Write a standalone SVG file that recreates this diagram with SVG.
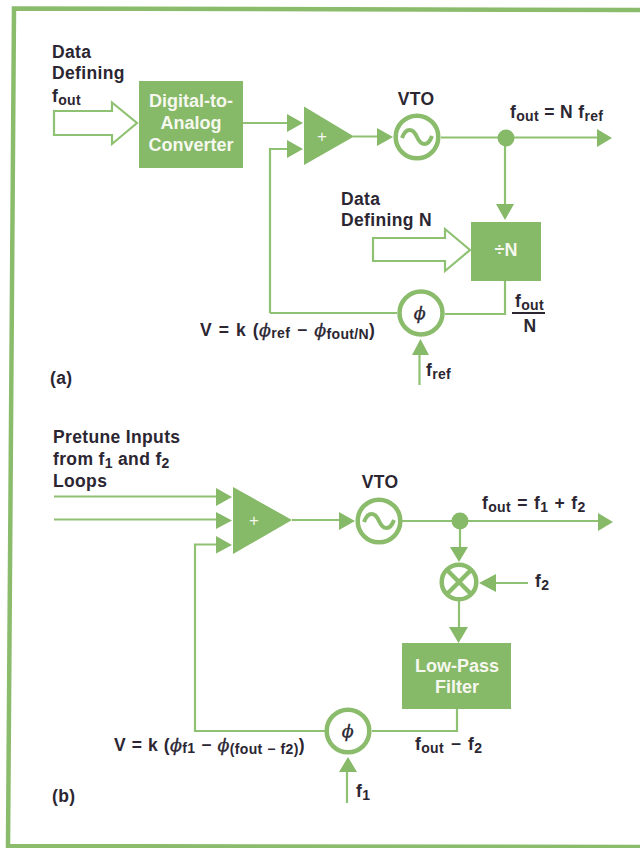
<svg xmlns="http://www.w3.org/2000/svg" width="640" height="848" viewBox="0 0 640 848">
<style>
.t{font-family:"Liberation Sans",Arial,sans-serif;font-weight:700;font-size:17.5px;letter-spacing:.35px;fill:#2b2632}
.w{font-family:"Liberation Sans",Arial,sans-serif;font-weight:700;font-size:18px;fill:#f6f8ef;text-anchor:middle}
.p{font-family:"Liberation Sans",Arial,sans-serif;font-size:17px;fill:#f6f8ef;text-anchor:middle}
.g{font-family:"DejaVu Serif","Liberation Serif",serif;font-weight:400;font-style:italic;stroke:#2b2632;stroke-width:.3}
.s{font-size:14px}
.sp{word-spacing:1.5px}
.sq{word-spacing:1px}
.sr{word-spacing:.5px}
.box{fill:#86b968}
.l{fill:none;stroke:#8fc173;stroke-width:2.2}
.h{fill:none;stroke:#8fc173;stroke-width:2.2}
.c{fill:#fff;stroke:#8abc6c;stroke-width:4.5}
.a{fill:#86b968}
</style>
<rect width="640" height="848" fill="#fff"/>
<path id="frame" d="M640 10L14 8.500L8 846L640 847" fill="none" stroke="#8abc6c" stroke-width="4.500"/>
<g id="connectors">
<path class="l" d="M243 123H288M270 313V149H288M353 136.500H378M441 137.500H597M505 146V205M505 281V314H445M397 313H270M419.500 385V355"/>
<path class="a" d="M287 114L303 123L287 132ZM287 140L303 149L287 158ZM377 128L393 137L377 146ZM597 129L612 138L597 147ZM496 204H514L505 220ZM412 355L420.500 339L429 355Z"/>
<path class="h" d="M54 111H112V102.500L137 123L112 144V135H54ZM373 238H445V229L470 250L445 271V261H373Z"/>
<path class="l" d="M54 496.500H217M54 519.500H217M217 544.500H195V731H325M372 731H457V708M292 520H340M402 521H598M460 528V548M528 583H496M459 600V628M347 803V771"/>
<path class="a" d="M216 488L232 497L216 506ZM216 512L232 520.500L216 529ZM216 536L232 545L216 553.500ZM339 512L355 521L339 530ZM598 513L613 522L598 531ZM450 547H468L459 562ZM496 574V592L479 583ZM449 627H468L458.500 643ZM339 772L348 757L357 772Z"/>
</g>
<g id="input-a">
<text class="t" x="52" y="58">Data</text>
<text class="t" x="52" y="79">Defining</text>
<text class="t" x="52" y="102">f<tspan class="s" dy="3">out</tspan></text>
</g>
<g id="dac">
<rect class="box" x="139" y="81" width="104" height="87"/>
<text class="w" x="191" y="107">Digital-to-</text>
<text class="w" x="191" y="129">Analog</text>
<text class="w" x="191" y="151">Converter</text>
</g>
<g id="sum-a">
<path class="a" d="M304 106.500L354 136.500L304 165Z"/>
<text class="p" x="322" y="142">+</text>
</g>
<g id="vto-a">
<circle class="c" cx="417" cy="137" r="21.300"/>
<path d="M402 138C406 127 413 128 417 137C421 146 428 147 432 136" fill="none" stroke="#8abc6c" stroke-width="4"/>
<text class="t" x="416" y="105" text-anchor="middle">VTO</text>
</g>
<g id="node-a">
<circle class="a" cx="506" cy="138" r="8.500"/>
<text class="t" x="510" y="118">f<tspan class="s" dy="3">out</tspan><tspan dy="-3"> = N f</tspan><tspan class="s" dy="3">ref</tspan></text>
</g>
<g id="input-n">
<text class="t" x="341" y="205">Data</text>
<text class="t" x="341" y="226">Defining N</text>
</g>
<g id="divider">
<rect class="box" x="471" y="222" width="70" height="59"/>
<text class="w" x="506" y="256">÷N</text>
</g>
<g id="fraction">
<text class="t" x="515" y="307">f<tspan class="s" dy="3">out</tspan></text>
<rect x="512" y="312" width="33" height="2" fill="#2b2632"/>
<text class="t" x="530" y="332" text-anchor="middle">N</text>
</g>
<g id="phase-a">
<circle class="c" cx="421" cy="313" r="21.500"/>
<text class="t g" x="420" y="319" text-anchor="middle">ϕ</text>
<text class="t" x="426" y="376">f<tspan class="s" dy="3">ref</tspan></text>
</g>
<text id="eq-a" class="t sp" x="200" y="336">V = k (<tspan class="g">ϕ</tspan><tspan class="s" dy="2">ref</tspan><tspan dy="-2"> − </tspan><tspan class="g">ϕ</tspan><tspan class="s" dy="3">fout/N</tspan><tspan dy="-3">)</tspan></text>
<text id="label-a" class="t" x="50" y="384">(a)</text>
<g id="input-b">
<text class="t" x="53" y="443">Pretune Inputs</text>
<text class="t" x="53" y="465">from f<tspan class="s" dy="3">1</tspan><tspan dy="-3"> and f</tspan><tspan class="s" dy="3">2</tspan></text>
<text class="t" x="53" y="487">Loops</text>
</g>
<g id="sum-b">
<path class="a" d="M233 487L292 520L233 554Z"/>
<text class="p" x="254" y="526">+</text>
</g>
<g id="vto-b">
<circle class="c" cx="379" cy="521" r="21.300"/>
<path d="M364 522C368 511 375 512 379 521C383 530 390 531 394 520" fill="none" stroke="#8abc6c" stroke-width="4"/>
<text class="t" x="380" y="488" text-anchor="middle">VTO</text>
</g>
<g id="node-b">
<circle class="a" cx="460" cy="521" r="8.500"/>
<text class="t sq" x="482" y="509">f<tspan class="s" dy="3">out</tspan><tspan dy="-3"> = f</tspan><tspan class="s" dy="3">1</tspan><tspan dy="-3"> + f</tspan><tspan class="s" dy="3">2</tspan></text>
</g>
<g id="mixer">
<circle class="c" cx="459" cy="582" r="17.300"/>
<path d="M447 570L471 594M471 570L447 594" stroke="#8abc6c" stroke-width="4.500"/>
<text class="t" x="535" y="587">f<tspan class="s" dy="3">2</tspan></text>
</g>
<g id="filter">
<rect class="box" x="402" y="643" width="109" height="66"/>
<text class="w" x="457" y="672">Low-Pass</text>
<text class="w" x="457" y="693">Filter</text>
</g>
<g id="phase-b">
<circle class="c" cx="348" cy="731" r="21.300"/>
<text class="t g" x="348" y="737" text-anchor="middle">ϕ</text>
<text class="t" x="356" y="797">f<tspan class="s" dy="3">1</tspan></text>
</g>
<text id="diff" class="t sp" x="415" y="750">f<tspan class="s" dy="3">out</tspan><tspan dy="-3"> − f</tspan><tspan class="s" dy="3">2</tspan></text>
<text id="eq-b" class="t sr" x="114" y="751">V = k (<tspan class="g">ϕ</tspan><tspan class="s" dy="2">f1</tspan><tspan dy="-2"> − </tspan><tspan class="g">ϕ</tspan><tspan class="s" dy="3">(fout − f2)</tspan><tspan dy="-3">)</tspan></text>
<text id="label-b" class="t" x="52" y="802">(b)</text>
</svg>
